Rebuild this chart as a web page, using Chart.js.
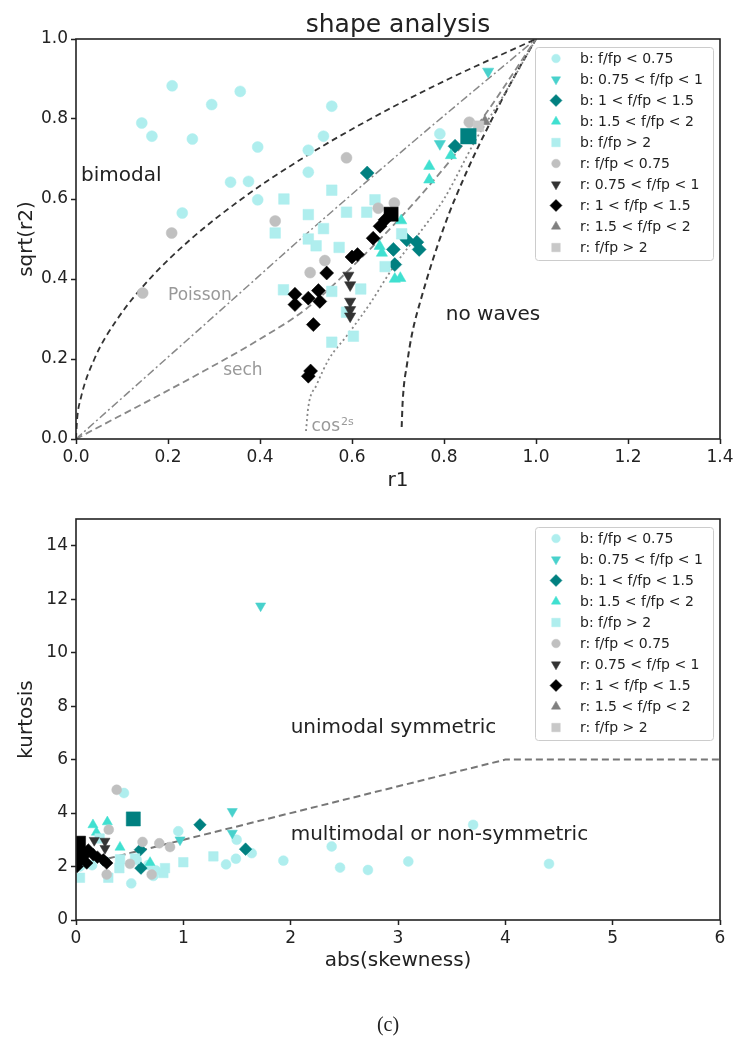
<!DOCTYPE html>
<html>
<head>
<meta charset="utf-8">
<script src="https://cdn.jsdelivr.net/npm/chart.js@4.4.0/dist/chart.umd.min.js"></script>
<style>
  body { margin: 0; background: #fff; width: 737px; height: 1046px; position: relative; overflow: hidden; }
  canvas { position: absolute; left: 0; }
  #shape { top: 0; }
  #kurt { top: 500px; }
  #caption { position: absolute; top: 1012px; left: 0; width: 776px; line-height: 24px; text-align: center;
             font-size: 20px; font-family: "Liberation Serif", "DejaVu Serif", serif; color: #222; }
</style>
</head>
<body>
<canvas id="shape" width="737" height="500"></canvas>
<canvas id="kurt" width="737" height="546"></canvas>
<div id="caption">(c)</div>
<script>
Chart.defaults.font.family = 'DejaVu Sans';

const groupLabels = [
  'b: f/fp < 0.75', 'b: 0.75 < f/fp < 1', 'b: 1 < f/fp < 1.5', 'b: 1.5 < f/fp < 2', 'b: f/fp > 2',
  'r: f/fp < 0.75', 'r: 0.75 < f/fp < 1', 'r: 1 < f/fp < 1.5', 'r: 1.5 < f/fp < 2', 'r: f/fp > 2'
];

// ---- top panel: r1 vs sqrt(r2) ----
const topB1 = [[0.209,0.883],[0.357,0.869],[0.295,0.836],[0.143,0.79],[0.165,0.757],[0.253,0.75],[0.395,0.73],
  [0.556,0.832],[0.538,0.757],[0.505,0.722],[0.505,0.667],[0.336,0.642],[0.375,0.644],[0.395,0.598],[0.231,0.565],[0.791,0.763]];
const topB2 = [[0.896,0.919],[0.791,0.738]];
const topB3 = [[0.633,0.665],[0.824,0.732],[0.69,0.474],[0.719,0.498],[0.741,0.492],[0.746,0.474],[0.693,0.436]];
const topB4 = [[0.815,0.709],[0.768,0.682],[0.768,0.648],[0.707,0.546],[0.66,0.482],[0.665,0.465],[0.693,0.4],[0.705,0.402]];
const topB5 = [[0.452,0.6],[0.556,0.622],[0.505,0.561],[0.588,0.567],[0.632,0.567],[0.65,0.598],[0.433,0.515],[0.538,0.526],
  [0.505,0.5],[0.522,0.483],[0.572,0.479],[0.708,0.513],[0.451,0.373],[0.556,0.369],[0.619,0.375],[0.588,0.317],
  [0.556,0.242],[0.603,0.257],[0.672,0.431]];
const topR1 = [[0.588,0.703],[0.433,0.545],[0.208,0.515],[0.145,0.365],[0.657,0.577],[0.692,0.59],[0.509,0.416],[0.541,0.446],[0.855,0.792]];
const topR2 = [[0.592,0.409],[0.596,0.385],[0.596,0.344],[0.596,0.323],[0.596,0.307]];
const topR3 = [[0.545,0.415],[0.476,0.362],[0.476,0.336],[0.505,0.352],[0.527,0.371],[0.53,0.344],[0.516,0.286],
  [0.505,0.157],[0.51,0.17],[0.6,0.455],[0.612,0.461],[0.646,0.502],[0.661,0.532],[0.672,0.548]];
const topR4 = [[0.889,0.794]];
const topR5 = [[0.875,0.782]];
const topMeanB = [[0.853,0.757]];
const topMeanR = [[0.685,0.562]];

// boundary / model curves
const bimodalCurve = [[0,0],[0.0025,0.05],[0.01,0.1],[0.04,0.2],[0.09,0.3],[0.16,0.4],[0.25,0.5],[0.36,0.6],[0.49,0.7],[0.64,0.8],[0.81,0.9],[1,1]];
const poissonCurve = [[0,0],[0.34,0.348],[0.5,0.512],[0.74,0.75],[1,1]];
const sechCurve = [[0,0],[0.27,0.165],[0.4,0.25],[0.5,0.325],[0.6,0.43],[0.75,0.61],[0.87,0.78],[1,1]];
const cos2sCurve = [[0.5,0.02],[0.505,0.08],[0.523,0.135],[0.55,0.2],[0.59,0.26],[0.64,0.34],[0.69,0.43],[0.75,0.52],[0.8,0.6],[0.87,0.75],[0.93,0.86],[1,1]];
const noWavesCurve = [[0.708,0.03],[0.71,0.09],[0.72,0.19],[0.73,0.26],[0.75,0.35],[0.8,0.53],[0.85,0.67],[0.9,0.79],[0.95,0.9],[1,1]];

const topXTicks = [0, 0.2, 0.4, 0.6, 0.8, 1.0, 1.2, 1.4];
const topXLabels = ['0.0', '0.2', '0.4', '0.6', '0.8', '1.0', '1.2', '1.4'];
const topYTicks = [0, 0.2, 0.4, 0.6, 0.8, 1.0];
const topYLabels = ['0.0', '0.2', '0.4', '0.6', '0.8', '1.0'];

// ---- bottom panel: abs(skewness) vs kurtosis ----
const botB1 = [[0.447,4.75],[0.953,3.32],[1.497,3.0],[1.637,2.5],[1.49,2.29],[1.398,2.08],[1.932,2.22],[0.515,1.37],
  [2.382,2.75],[2.46,1.96],[2.72,1.87],[3.096,2.19],[3.70,3.56],[4.407,2.1],[0.745,1.85],[0.565,2.25],[0.674,2.06],
  [0.27,2.19],[0.037,2.0],[0.72,1.65],[0.15,2.05]];
const botB2 = [[1.72,11.75],[1.456,4.06],[1.456,3.25],[0.969,3.0]];
const botB3 = [[1.155,3.56],[1.58,2.65],[0.6,2.63],[0.605,1.94]];
const botB4 = [[0.158,3.56],[0.292,3.67],[0.19,3.28],[0.41,2.72],[0.69,2.15],[0.06,2.4]];
const botB5 = [[1.0,2.16],[1.28,2.38],[0.404,1.94],[0.301,1.58],[0.829,1.94],[0.814,1.76],[0.037,1.58],[0.55,2.3],[0.41,2.27],[0.22,3.05]];
const botR1 = [[0.379,4.87],[0.305,3.38],[0.62,2.92],[0.776,2.87],[0.876,2.73],[0.503,2.1],[0.286,1.7],[0.705,1.7]];
const botR2 = [[0.17,2.98],[0.27,2.95],[0.27,2.68]];
const botR3 = [[0.255,2.25],[0.286,2.13],[0.068,2.37],[0.01,2.31],[0.115,2.62],[0.161,2.44],[0.01,2.0],[0.1,2.13],[0.04,2.6],[0.2,2.35],[0.02,2.15]];
const botR4 = [];
const botR5 = [];
const botMeanB = [[0.534,3.78]];
const botMeanR = [[0.03,2.9]];

const symmetryLine = [[0,2],[4,6],[6,6]];

const botXTicks = [0, 1, 2, 3, 4, 5, 6];
const botXLabels = ['0', '1', '2', '3', '4', '5', '6'];
const botYTicks = [0, 2, 4, 6, 8, 10, 12, 14];
const botYLabels = ['0', '2', '4', '6', '8', '10', '12', '14'];

// marker look for each group, same order as groupLabels
const markerStyles = [
  { color: '#afeeee', shape: 'circle',   rotation: 0,   radius: 5.5, legend: 4.3 },
  { color: '#48d1cc', shape: 'triangle', rotation: 180, radius: 6.5, legend: 5.3 },
  { color: '#008080', shape: 'rectRot',  rotation: 0,   radius: 7,   legend: 6 },
  { color: '#40e0d0', shape: 'triangle', rotation: 0,   radius: 6.5, legend: 5.3 },
  { color: '#afeeee', shape: 'rect',     rotation: 0,   radius: 7.5, legend: 6 },
  { color: '#c0c0c0', shape: 'circle',   rotation: 0,   radius: 5.5, legend: 4.3 },
  { color: '#333333', shape: 'triangle', rotation: 180, radius: 6.5, legend: 5.3 },
  { color: '#000000', shape: 'rectRot',  rotation: 0,   radius: 7,   legend: 6 },
  { color: '#808080', shape: 'triangle', rotation: 0,   radius: 6.5, legend: 5.3 },
  { color: '#c8c8c8', shape: 'rect',     rotation: 0,   radius: 7.5, legend: 6 }
];

const toXY = pts => pts.map(p => ({ x: p[0], y: p[1] }));

function groupSets(groups, k) {
  return groups.map((pts, i) => {
    const m = markerStyles[i];
    return {
      label: groupLabels[i],
      data: toXY(pts),
      pointStyle: m.shape,
      pointRotation: m.rotation,
      pointRadius: m.radius * k,
      pointHoverRadius: m.radius * k,
      pointBackgroundColor: m.color,
      pointBorderColor: m.color,
      pointBorderWidth: 0.5,
      order: 50 - i
    };
  });
}

function meanSet(pts, color, r) {
  return { data: toXY(pts), pointStyle: 'rect', pointRadius: r, pointHoverRadius: r,
           pointBackgroundColor: color, pointBorderColor: color, pointBorderWidth: 0.5, order: 1 };
}

function curveSet(pts, color, width, dash) {
  return { data: toXY(pts), showLine: true, pointRadius: 0, pointHoverRadius: 0,
           borderColor: color, borderWidth: width, borderDash: dash,
           cubicInterpolationMode: 'monotone', fill: false, order: 100 };
}

function axis(ticks, labels, max, isX) {
  return {
    type: 'linear', min: 0, max: max,
    afterBuildTicks: s => { s.ticks = ticks.map(v => ({ value: v })); },
    afterFit: s => { if (isX) s.height = 61; else s.width = 76; },
    ticks: { color: '#222', font: { size: 17 }, padding: 3, maxRotation: 0, autoSkip: false,
             callback: (v, i) => labels[i] },
    grid: { drawOnChartArea: false, drawTicks: true, tickLength: 5, tickColor: '#222', tickWidth: 1.5 },
    border: { display: false }
  };
}

function drawMarker(ctx, m, r, x, y) {
  ctx.fillStyle = m.color;
  ctx.strokeStyle = m.color;
  ctx.lineWidth = 0.5;
  Chart.helpers.drawPoint(ctx, { pointStyle: m.shape, rotation: m.rotation, radius: r, borderWidth: 0.5 }, x, y);
}

// frame, titles, in-plot notes and the legend box
function decorations(cfg) {
  return {
    id: 'decorations',
    afterDraw(chart) {
      const { ctx, chartArea: a, scales } = chart;
      const cx = (a.left + a.right) / 2;
      ctx.save();
      ctx.strokeStyle = '#222';
      ctx.lineWidth = 1.6;
      ctx.strokeRect(a.left, a.top, a.right - a.left, a.bottom - a.top);

      ctx.fillStyle = '#222';
      ctx.textBaseline = 'alphabetic';
      if (cfg.title) {
        ctx.font = '25px "DejaVu Sans"';
        ctx.textAlign = 'center';
        ctx.fillText(cfg.title, cx, a.top - 7);
      }
      ctx.font = '20px "DejaVu Sans"';
      ctx.textAlign = 'center';
      ctx.fillText(cfg.xTitle, cx, a.bottom + cfg.xTitleGap);
      ctx.save();
      ctx.translate(32, (a.top + a.bottom) / 2);
      ctx.rotate(-Math.PI / 2);
      ctx.fillText(cfg.yTitle, 0, 0);
      ctx.restore();

      ctx.textAlign = 'left';
      cfg.notes.forEach(n => {
        const x = scales.x.getPixelForValue(n.at[0]);
        const y = scales.y.getPixelForValue(n.at[1]);
        ctx.font = n.size + 'px "DejaVu Sans"';
        ctx.fillStyle = n.color;
        ctx.fillText(n.text, x, y);
        if (n.sup) {
          const w = ctx.measureText(n.text).width;
          ctx.font = Math.round(n.size * 0.65) + 'px "DejaVu Sans"';
          ctx.fillText(n.sup, x + w + 1, y - n.size * 0.4);
        }
      });

      // legend
      const bx = a.right - 185, by = a.top + 8, bw = 178, bh = 213;
      ctx.fillStyle = 'rgba(255,255,255,0.85)';
      ctx.strokeStyle = '#cccccc';
      ctx.lineWidth = 1;
      ctx.beginPath();
      ctx.roundRect(bx + 0.5, by + 0.5, bw, bh, 3);
      ctx.fill();
      ctx.stroke();
      ctx.font = '14px "DejaVu Sans"';
      ctx.textBaseline = 'middle';
      groupLabels.forEach((label, i) => {
        const y = by + 11.5 + i * 21;
        drawMarker(ctx, markerStyles[i], markerStyles[i].legend, bx + 21, y);
        ctx.fillStyle = '#222';
        ctx.fillText(label, bx + 45, y + 1);
      });
      ctx.restore();
    }
  };
}

function buildChart(id, cfg) {
  return new Chart(document.getElementById(id), {
    type: 'scatter',
    data: { datasets: cfg.datasets },
    options: {
      responsive: false,
      animation: false,
      events: [],
      layout: { padding: cfg.padding },
      plugins: { legend: { display: false }, tooltip: { enabled: false } },
      scales: {
        x: axis(cfg.xTicks, cfg.xLabels, cfg.xMax, true),
        y: axis(cfg.yTicks, cfg.yLabels, cfg.yMax, false)
      }
    },
    plugins: [decorations(cfg)]
  });
}

buildChart('shape', {
  title: 'shape analysis',
  xTitle: 'r1', xTitleGap: 47,
  yTitle: 'sqrt(r2)',
  padding: { top: 39, right: 17, bottom: 0, left: 0 },
  xTicks: topXTicks, xLabels: topXLabels, xMax: 1.4,
  yTicks: topYTicks, yLabels: topYLabels, yMax: 1.0,
  notes: [
    { text: 'bimodal', at: [0.011, 0.646], size: 20, color: '#222' },
    { text: 'Poisson', at: [0.2, 0.348], size: 17, color: '#999' },
    { text: 'sech', at: [0.32, 0.161], size: 17, color: '#999' },
    { text: 'cos', sup: '2s', at: [0.512, 0.019], size: 17, color: '#999' },
    { text: 'no waves', at: [0.804, 0.298], size: 20, color: '#222' }
  ],
  datasets: [
    curveSet(bimodalCurve, '#333', 1.8, [6, 4]),
    curveSet(poissonCurve, '#888', 1.5, [8, 3, 2, 3]),
    curveSet(sechCurve, '#888', 1.8, [7, 4]),
    curveSet(cos2sCurve, '#888', 1.8, [2, 3]),
    curveSet(noWavesCurve, '#333', 2, [6, 4]),
    ...groupSets([topB1, topB2, topB3, topB4, topB5, topR1, topR2, topR3, topR4, topR5], 1),
    meanSet(topMeanB, '#008080', 11),
    meanSet(topMeanR, '#000000', 10)
  ]
});

buildChart('kurt', {
  xTitle: 'abs(skewness)', xTitleGap: 46,
  yTitle: 'kurtosis',
  padding: { top: 19, right: 17, bottom: 65, left: 0 },
  xTicks: botXTicks, xLabels: botXLabels, xMax: 6,
  yTicks: botYTicks, yLabels: botYLabels, yMax: 15,
  notes: [
    { text: 'unimodal symmetric', at: [2.0, 7.0], size: 20, color: '#222' },
    { text: 'multimodal or non-symmetric', at: [2.0, 3.0], size: 20, color: '#222' }
  ],
  datasets: [
    { ...curveSet(symmetryLine, '#777', 2, [7, 4]), cubicInterpolationMode: 'default', tension: 0 },
    ...groupSets([botB1, botB2, botB3, botB4, botB5, botR1, botR2, botR3, botR4, botR5], 0.9),
    meanSet(botMeanB, '#008080', 10),
    meanSet(botMeanR, '#000000', 9)
  ]
});
</script>
</body>
</html>
